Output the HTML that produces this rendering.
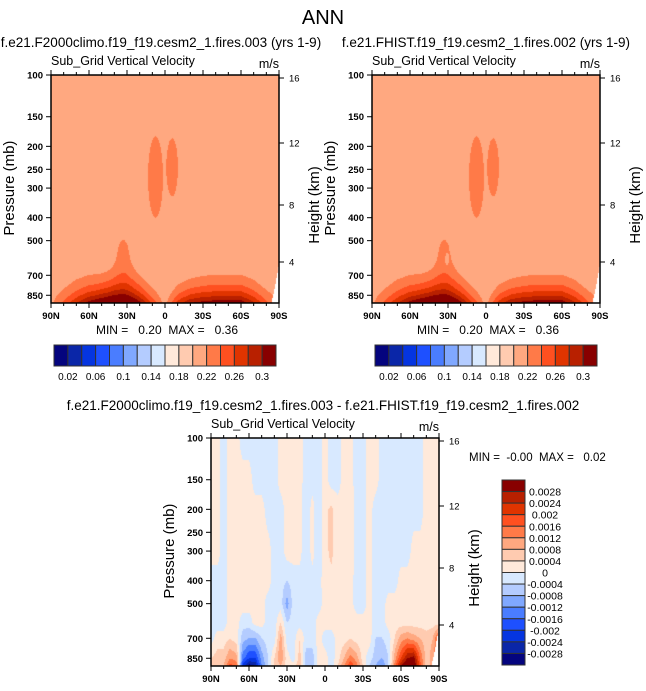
<!DOCTYPE html>
<html><head><meta charset="utf-8">
<style>
html,body{margin:0;padding:0;background:#fff;}
#root{position:relative;width:646px;height:691px;overflow:hidden;font-family:"Liberation Sans",Arial,sans-serif;}
canvas{position:absolute;}
svg{position:absolute;left:0;top:0;}
text{font-family:"Liberation Sans",Arial,sans-serif;fill:#000;white-space:pre;}
</style></head>
<body>
<div id="root">
<canvas id="cA" width="228" height="228" style="left:51px;top:75px"></canvas>
<canvas id="cB" width="228" height="228" style="left:372px;top:75px"></canvas>
<canvas id="cD" width="228" height="228" style="left:211px;top:438px"></canvas>
<svg id="ov" width="646" height="691"></svg>
</div>
<script>
// ---- data ----
const lats=[90,80,70,60,50,40,30,20,10,0,-10,-20,-30,-40,-50,-60,-70,-80,-90];
const surfA=[0.215,0.245,0.28,0.31,0.325,0.33,0.325,0.30,0.255,0.21,0.27,0.30,0.31,0.315,0.315,0.315,0.285,0.245,0.22];
const surfB=[0.215,0.245,0.28,0.31,0.325,0.33,0.325,0.30,0.255,0.21,0.27,0.30,0.31,0.315,0.315,0.315,0.285,0.245,0.22];
const depthA=[200,250,300,320,320,325,330,300,230,150,250,290,310,320,320,320,290,230,180];
// upper-level maxima: center lat, half-width lat, center log10(p), half-height log10(p)
const upLat=[7.5,-5.6];
const upLatHalf=[6,4.7];
const upLogP=[2.43,2.39];
const upLogPHalf=[0.175,0.125];
// difference field: rows by pressure level, columns every 5 deg from 90N to 90S (units 1e-4)
const diffP=[100,150,200,300,400,500,600,700,850,916];
const diffRows=[
[2,2,-2,2,2,-2,-2,-2,-2,-2,-2,2,2,2,2,-2,-2,-2,2,-2,-2,2,2,-2,-2,2,2,-2,-2,-2,-2,-2,-2,-2,2,2,2],
[2,2,-2,2,2,2,2,-2,-2,-2,-2,2,2,2,2,-2,-2,-2,2,-2,-2,2,2,-2,-2,2,2,-2,-2,-2,-2,-2,-2,-2,2,2,2],
[2,2,-2,2,2,2,2,2,2,-2,-2,-2,2,2,2,-4,2,-4,3,5,2,2,3,-2,-2,2,-2,-2,-2,-2,-2,-2,-2,-2,2,2,2],
[2,2,-2,2,2,2,2,2,2,2,-2,-2,2,2,2,-4,2,-4,3,5,2,2,3,-2,-2,2,-2,-2,-2,-2,-2,-2,2,2,2,2,2],
[-2,-2,-2,2,2,2,2,2,2,2,-2,-2,-4,-2,-2,-2,-2,-2,3,3,2,2,2,-2,-2,2,-2,-2,-2,-2,2,2,2,2,2,2,2],
[-2,-2,-2,2,2,2,2,2,2,-2,-2,-2,-10,-2,-2,-2,-2,-2,2,2,2,2,2,-2,-2,2,-2,-2,2,2,2,2,2,2,2,2,2],
[-2,-2,-2,2,2,-2,-2,2,2,-2,-2,4,-4,-2,-2,-2,-2,2,2,2,2,2,2,2,2,2,-2,-2,2,2,2,2,2,2,2,2,2],
[-2,2,2,4,2,-6,-8,-8,-4,-2,-2,10,-2,-2,4,-2,-2,2,-2,-2,2,2,4,2,2,2,-4,-4,-2,4,10,12,10,8,6,8,20],
[4,6,6,12,10,-14,-20,-20,-10,-4,4,12,2,-2,6,-6,-6,2,2,-2,2,8,14,10,2,-2,-6,-8,-4,10,20,28,30,16,6,10,20],
[4,6,8,18,16,-22,-30,-28,-12,-4,4,8,2,2,8,-6,-6,2,2,-2,4,12,20,14,4,-4,-8,-12,-4,14,28,36,34,18,6,10,20]
];
const topLevels=[0.02,0.04,0.06,0.08,0.10,0.12,0.14,0.16,0.18,0.20,0.22,0.24,0.26,0.28,0.30];
const diffLevels=[-0.0028,-0.0024,-0.002,-0.0016,-0.0012,-0.0008,-0.0004,0,0.0004,0.0008,0.0012,0.0016,0.002,0.0024,0.0028];
const colors=["#04047e","#0a26a8","#0535e0","#1e50ff","#4a7dff","#80a8ff","#b4ccff","#d8e9ff","#ffe9da","#ffcbb0","#ffa880","#ff7a48","#ff5020","#e03400","#b82000","#880000"];
const pTicks=[100,150,200,250,300,400,500,700,850];
const latTicks=[90,60,30,0,-30,-60,-90];
const latTickLabels=["90N","60N","30N","0","30S","60S","90S"];
const kmTicks=[16,12,8,4];
const topBarLabels=["0.02","0.06","0.1","0.14","0.18","0.22","0.26","0.3"];
const diffBarLabels=["0.0028","0.0024","0.002","0.0016","0.0012","0.0008","0.0004","0","-0.0004","-0.0008","-0.0012","-0.0016","-0.002","-0.0024","-0.0028"];

// ---- axes ----
const W=228,H=228,PB=916;
function yOfP(p){return 237*Math.log10(p/100);}
function pOfY(y){return 100*Math.pow(10,y/237);}
function xOfLat(l){return (90-l)/180*W;}
function latOfX(x){return 90-x/W*180;}
function kmOffset(k){const m={16:3,12:68,8:130,4:187};return m[k];}
function interp(arr,lat){let f=(90-lat)/10;let i=Math.max(0,Math.min(17,Math.floor(f)));let t=f-i;return arr[i]*(1-t)+arr[i+1]*t;}
function missing(lat,p){if(lat>-84)return false;return p>916-(-84-lat)/6*290;}
function fieldTop(surf,lat,p,extra){
  const bg=0.21;
  let sv=interp(surf,lat),D=interp(depthA,lat);
  let d=PB-p,f=Math.max(0,1-d/D);
  let v=bg+(sv-bg)*f*f;
  const lp=Math.log10(p);
  for(let i=0;i<upLat.length;i++){
    const r2=Math.pow((lat-upLat[i])/(upLatHalf[i]/0.96),2)+Math.pow((lp-upLogP[i])/(upLogPHalf[i]/0.96),2);
    v+=0.02*Math.exp(-r2*r2*r2);
  }
  const w=2+(lp-2.67)*45;
  if(lp>2.67) v+=0.02*Math.exp(-Math.pow((lat-33)/Math.max(w,1),2))*Math.min(1,(lp-2.67)/0.05);
  if(extra) v-=0.02*Math.exp(-Math.pow((lat-31)/1.5,2)-Math.pow((lp-2.78)/0.03,2));
  return v;
}
function fieldDiff(lat,p){
  const lp=Math.log10(p);
  let r=0;while(r<diffP.length-2&&lp>Math.log10(diffP[r+1]))r++;
  let tr=(lp-Math.log10(diffP[r]))/(Math.log10(diffP[r+1])-Math.log10(diffP[r]));tr=Math.max(0,Math.min(1,tr));
  let f=(90-lat)/5;let c=Math.max(0,Math.min(35,Math.floor(f)));let tc=f-c;
  const a=diffRows[r][c]*(1-tc)+diffRows[r][c+1]*tc;
  const b=diffRows[r+1][c]*(1-tc)+diffRows[r+1][c+1]*tc;
  return (a*(1-tr)+b*tr)*1e-4-0.00001;
}
function binOf(levels,v){let k=0;for(const l of levels){if(v>=l)k++;}return k;}
function hex(c){return [parseInt(c.slice(1,3),16),parseInt(c.slice(3,5),16),parseInt(c.slice(5,7),16)];}
const rgb=colors.map(hex);
function paint(id,fn,levels){
  const cv=document.getElementById(id),ctx=cv.getContext('2d');
  const img=ctx.createImageData(W,H);
  for(let y=0;y<H;y++){const p=pOfY(y+0.5);
    for(let x=0;x<W;x++){const lat=latOfX(x+0.5);const o=(y*W+x)*4;
      if(missing(lat,p)){img.data[o]=255;img.data[o+1]=255;img.data[o+2]=255;img.data[o+3]=255;continue;}
      const c=rgb[binOf(levels,fn(lat,p))];
      img.data[o]=c[0];img.data[o+1]=c[1];img.data[o+2]=c[2];img.data[o+3]=255;}}
  ctx.putImageData(img,0,0);
}
paint('cA',(l,p)=>fieldTop(surfA,l,p,false),topLevels);
paint('cB',(l,p)=>fieldTop(surfB,l,p,true),topLevels);
paint('cD',fieldDiff,diffLevels);

// ---- overlay ----
const NS="http://www.w3.org/2000/svg",svg=document.getElementById('ov');
function el(tag,attrs,parent){const e=document.createElementNS(NS,tag);for(const k in attrs)e.setAttribute(k,attrs[k]);(parent||svg).appendChild(e);return e;}
function txt(s,x,y,size,anchor,parent,extra){const t=el('text',Object.assign({x:x,y:y,'font-size':size,'text-anchor':anchor||'middle'},extra||{}),parent);t.textContent=s;return t;}

function axes(x0,y0,name,title){
  const g=el('g',{});
  
  
  const fr=el('rect',{x:x0,y:y0,width:W,height:H,fill:'none',stroke:'#000','stroke-width':1.5},g);
  
  
  const t1=txt('Sub_Grid Vertical Velocity',x0,y0-10,12.5,'start',g);
  
  
  const t2=txt('m/s',x0+W,y0-7,12.5,'end',g);
  
  
  if(title){const t3=txt(title,x0+W/2+(x0<100?-4:0),y0-28,13.5,'middle',g);
    
    }
  for(const p of pTicks){const y=y0+yOfP(p);
    el('line',{x1:x0-5,x2:x0,y1:y,y2:y,stroke:'#000','stroke-width':1},g);
    const t=txt(String(p),x0-8,y+3.5,9.5,'end',g,{'font-weight':'bold'});
    
    }
  for(let l=90;l>=-90;l-=10){const x=x0+xOfLat(l);const maj=l%30===0;
    el('line',{x1:x,x2:x,y1:y0+H,y2:y0+H+(maj?5:3),stroke:'#000','stroke-width':1},g);
    el('line',{x1:x,x2:x,y1:y0,y2:y0-(maj?5:3),stroke:'#000','stroke-width':1},g);}
  latTicks.forEach((l,i)=>{const t=txt(latTickLabels[i],x0+xOfLat(l),y0+H+16,9.5,'middle',g,{'font-weight':'bold'});
    
    });
  for(const k of kmTicks){const y=y0+kmOffset(k);
    el('line',{x1:x0+W,x2:x0+W+5,y1:y,y2:y,stroke:'#000','stroke-width':1},g);
    const t=txt(String(k),x0+W+10,y+3.5,9.5,'start',g);
    
    }
  const ya=txt('Pressure (mb)',0,0,15,'middle',g,{transform:`translate(${x0-37},${y0+yOfP(300)}) rotate(-90)`});
  
  
  const yb=txt('Height (km)',0,0,15,'middle',g,{transform:`translate(${x0+W+40},${y0+130}) rotate(-90)`});
  
  
}
function hbar(x0,y0,name){
  const g=el('g',{});
  
  
  const bw=222/16;
  colors.forEach((c,i)=>{const r=el('rect',{x:x0+i*bw,y:y0,width:bw,height:21,fill:c,stroke:'#333','stroke-width':1},g);
    
    });
  topBarLabels.forEach((s,i)=>{const t=txt(s,x0+(2*i+1)*bw,y0+35,10,'middle',g);
    
    });
}
const title=txt('ANN',323,24,20,'middle');


axes(51,75,'panel-f2000climo','f.e21.F2000climo.f19_f19.cesm2_1.fires.003 (yrs 1-9)');
axes(372,75,'panel-fhist','f.e21.FHIST.f19_f19.cesm2_1.fires.002 (yrs 1-9)');
axes(211,438,'panel-difference',null);
const dt=txt('f.e21.F2000climo.f19_f19.cesm2_1.fires.003 - f.e21.FHIST.f19_f19.cesm2_1.fires.002',323,410,13.5,'middle');


const m1=txt('MIN =   0.20  MAX =   0.36',167,334,12,'middle');


const m2=txt('MIN =   0.20  MAX =   0.36',488,334,12,'middle');


const m3=txt('MIN =  -0.00  MAX =   0.02',469,461,11.5,'start');


hbar(54,345,'colorbar-left');
hbar(375,345,'colorbar-right');
const vg=el('g',{});


const bh=185/16;
colors.slice().reverse().forEach((c,i)=>{const r=el('rect',{x:502,y:480+i*bh,width:23,height:bh,fill:c,stroke:'#333','stroke-width':1},vg);
  
  });
diffBarLabels.forEach((s,i)=>{const t=txt(s,545,480+(i+1)*bh+4,10.5,'middle',vg);
  
  });
</script>
</body></html>
